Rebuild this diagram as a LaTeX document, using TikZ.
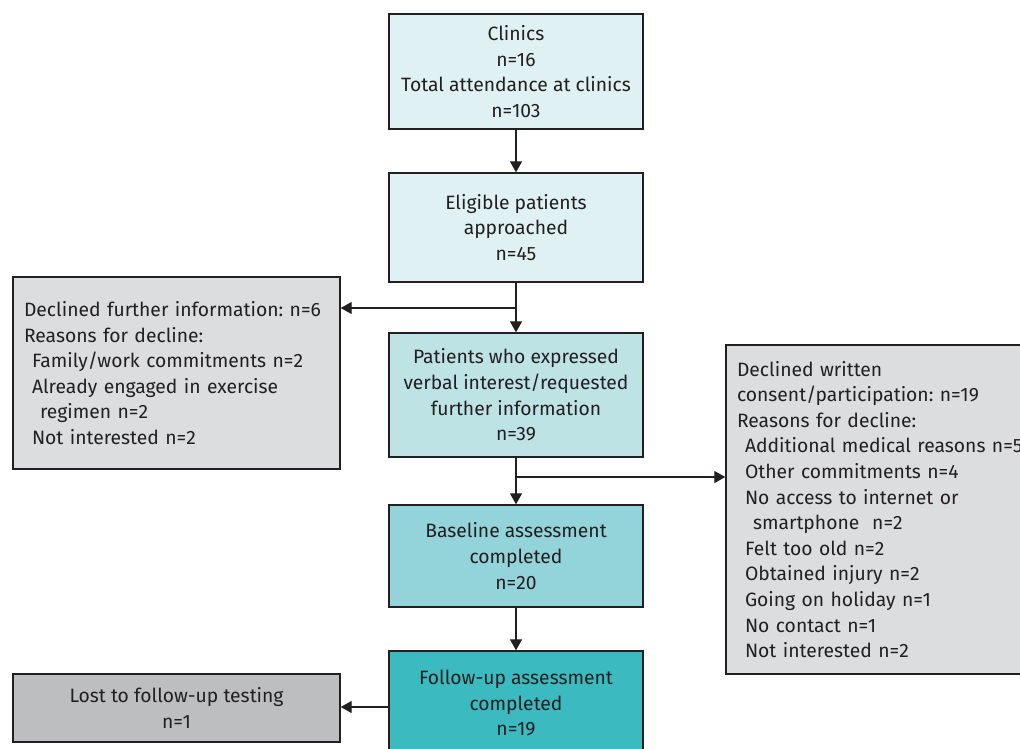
\documentclass[tikz,border=0pt]{standalone}
\usepackage{fontspec}
\setmainfont{Fira Sans}
\usetikzlibrary{arrows.meta}
\definecolor{bordc}{RGB}{35,31,32}
\definecolor{tealA}{RGB}{223,241,242}
\definecolor{tealB}{RGB}{189,227,229}
\definecolor{tealC}{RGB}{146,212,217}
\definecolor{tealD}{RGB}{59,186,192}
\definecolor{greyA}{RGB}{220,221,223}
\definecolor{greyB}{RGB}{188,190,192}
\definecolor{txtc}{RGB}{35,31,32}
\tikzset{
  box/.style={draw=bordc, line width=1.4pt, minimum width=254pt, inner sep=0pt, align=center,
    text=txtc, font=\fontsize{19.3}{25.7}\selectfont\frenchspacing},
  sidebox/.style={draw=bordc, line width=1.4pt, inner xsep=11pt, inner ysep=0pt, align=left,
    text=txtc, font=\fontsize{19.3}{25.6}\selectfont\frenchspacing},
  conn/.style={draw=bordc, line width=1.3pt},
  arr/.style={conn, -{Triangle[length=11pt,width=12pt]}}
}
\newcommand{\ind}{\hspace*{8pt}}
\newcommand{\indd}{\hspace*{16pt}}
\begin{document}
\begin{tikzpicture}[x=1pt,y=-1pt]
\clip (0,0) rectangle (1020,748);
\fill[white] (0,0) rectangle (1020,748);
\node[box, fill=tealA, minimum height=115pt] (b1) at (516,71.5) {Clinics\\n=16\\Total attendance at clinics\\n=103};
\node[box, fill=tealA, minimum height=109pt] (b2) at (516,227.5) {Eligible patients\\approached\\n=45};
\node[box, fill=tealB, minimum height=124pt] (b3) at (516,395) {Patients who expressed\\verbal interest/requested\\further information\\n=39};
\node[box, fill=tealC, minimum height=102pt] (b4) at (516,556) {Baseline assessment\\completed\\n=20};
\node[box, fill=tealD, minimum height=104pt] (b5) at (516,703) {Follow-up assessment\\completed\\n=19};
\node[sidebox, fill=greyA, text width=305pt, minimum height=192pt] (d1) at (176.5,373)
  {Declined further information: n=6\\Reasons for decline:\\\ind Family/work commitments n=2\\\ind Already engaged in exercise\\\indd regimen n=2\\\ind Not interested n=2};
\node[sidebox, fill=greyA, text width=330pt, minimum height=329pt] (d2) at (902,509.5)
  {Declined written\\consent/participation: n=19\\Reasons for decline:\\\ind Additional medical reasons n=5\\\ind Other commitments n=4\\\ind No access to internet or\\\indd smartphone\ \ n=2\\\ind Felt too old n=2\\\ind Obtained injury n=2\\\ind Going on holiday n=1\\\ind No contact n=1\\\ind Not interested n=2};
\node[box, fill=greyB, minimum width=327pt, minimum height=68pt] (l1) at (176.5,708) {Lost to follow-up testing\\n=1};
\coordinate (j1) at (516,308);
\coordinate (j2) at (516,477);
\coordinate (j3) at (389,707);
\draw[arr] (b1.south) -- (b2.north);
\draw[arr] (b2.south) -- (b3.north);
\draw[arr] (j1) -- (j1 -| d1.east);
\draw[arr] (b3.south) -- (b4.north);
\draw[arr] (j2) -- (j2 -| d2.west);
\draw[arr] (b4.south) -- (b5.north);
\draw[arr] (j3 -| b5.west) -- (j3 -| l1.east);
\end{tikzpicture}
\end{document}
